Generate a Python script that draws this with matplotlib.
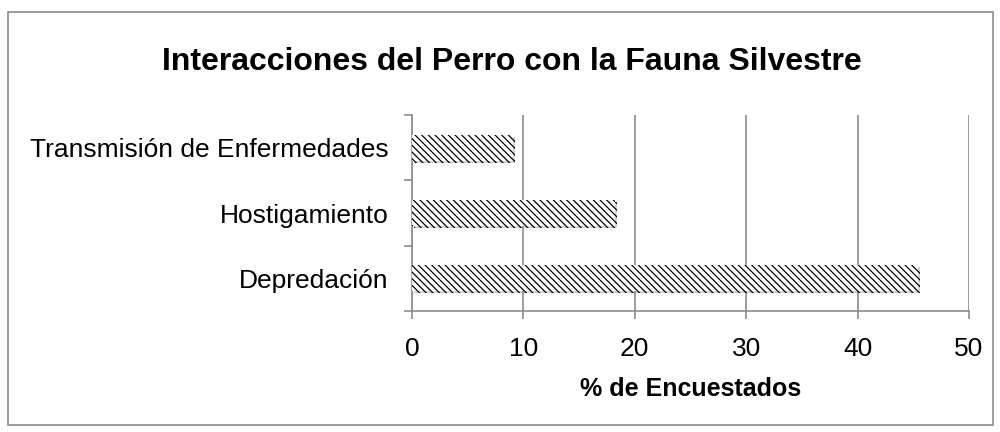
import matplotlib
matplotlib.use("Agg")
import matplotlib.pyplot as plt
from matplotlib.patches import Rectangle
import matplotlib.patheffects as pe

categories = ["Depredación", "Hostigamiento", "Transmisión de Enfermedades"]
values = [45.45, 18.18, 9.09]
xticks = [0, 10, 20, 30, 40, 50]
title = "Interacciones del Perro con la Fauna Silvestre"
xlabel = "% de Encuestados"

plt.rcParams['font.family'] = ['Liberation Sans', 'DejaVu Sans']
plt.rcParams['hatch.linewidth'] = 0.9

W, H = 1000, 432
fig = plt.figure(figsize=(W/100, H/100), dpi=100)
ax = fig.add_axes([412/W, 1-311/H, (969-412)/W, (311-115)/H])

ypos = list(range(len(categories)))
bars = ax.barh(ypos, values, height=0.4, color='white', edgecolor='black', hatch='\\' * 5, linewidth=0, zorder=3)
for b in bars:
    b.set_path_effects([pe.SimplePatchShadow(offset=(1.5, -1.5), shadow_rgbFace='#888888', alpha=0.35), pe.Normal()])
ax.set_ylim(-0.5, len(categories)-0.5)
ax.set_xlim(0, 50)
ax.set_xticks(xticks)
ax.set_xticklabels([str(t) for t in xticks], fontsize=19)
ax.set_yticks(ypos)
ax.set_yticklabels(categories, fontsize=19)
ax.tick_params(axis='y', length=0, pad=17)
ax.set_yticks([-0.5, 0.5, 1.5, 2.5], minor=True)
ax.tick_params(axis='y', which='minor', length=6, color='#8c8c8c', width=1.2)
ax.tick_params(axis='x', length=6, color='#8c8c8c', width=1.2, pad=13)
ax.grid(axis='x', color='#8c8c8c', linewidth=1.2, zorder=0)
for s in ['top', 'right']:
    ax.spines[s].set_visible(False)
for s in ['left', 'bottom']:
    ax.spines[s].set_color('#8c8c8c')
    ax.spines[s].set_linewidth(1.2)
ax.set_xlabel(xlabel, fontsize=18, fontweight='bold', labelpad=11)
fig.text(512/W, 1-62/H, title, ha='center', va='center', fontsize=23, fontweight='bold')
fig.patches.append(Rectangle((8/W, 1-425/H), (993-8)/W, (425-12)/H, transform=fig.transFigure,
                             fill=False, edgecolor='#8c8c8c', linewidth=1.2))
fig.savefig("out.png", dpi=100)
